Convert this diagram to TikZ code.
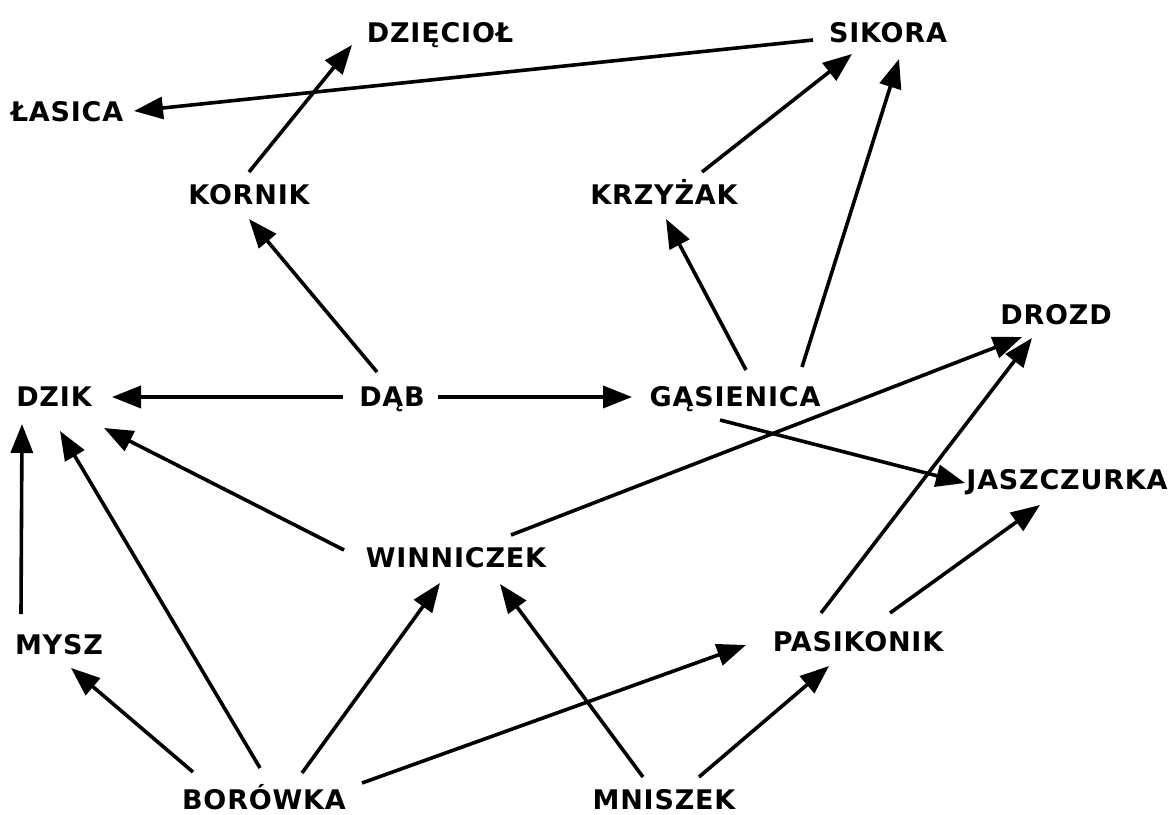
\documentclass[tikz,border=0pt]{standalone}
\usepackage{fontspec}
\setmainfont{DejaVu Sans}[LetterSpace=3]
\usetikzlibrary{arrows.meta}
\tikzset{
  lbl/.style={font=\bfseries\fontsize{27}{31}\selectfont, inner sep=0pt, text height=19.5pt, text depth=0pt, anchor=center},
  arr/.style={line width=3.6pt, -{Triangle[length=29pt,width=22pt]}}
}
\begin{document}
\begin{tikzpicture}[x=1pt,y=-1pt]
\useasboundingbox[fill=white] (0,0) rectangle (1169,814);
\node[lbl] (dzieciol) at (440,33) {DZIĘCIOŁ};
\node[lbl] (sikora) at (888,33) {SIKORA};
\node[lbl] (lasica) at (67,112) {ŁASICA};
\node[lbl] (kornik) at (249,195) {KORNIK};
\node[lbl] (krzyzak) at (664,195) {KRZYŻAK};
\node[lbl] (drozd) at (1056,315) {DROZD};
\node[lbl] (dzik) at (54,397) {DZIK};
\node[lbl] (dab) at (392,397) {DĄB};
\node[lbl] (gasienica) at (735,397) {GĄSIENICA};
\node[lbl] (jaszczurka) at (1067,480) {JASZCZURKA};
\node[lbl] (winniczek) at (456,558) {WINNICZEK};
\node[lbl] (mysz) at (59,645) {MYSZ};
\node[lbl] (pasikonik) at (858,642) {PASIKONIK};
\node[lbl] (borowka) at (264,800) {BORÓWKA};
\node[lbl] (mniszek) at (664,800) {MNISZEK};

\draw[arr] ([shift={(-75,7)}]sikora.center) -- ([shift={(67,-1)}]lasica.center);
\draw[arr] ([shift={(0,-23)}]kornik.center) -- ([shift={(-88,12)}]dzieciol.center);
\draw[arr] ([shift={(-15,-25)}]dab.center) -- ([shift={(0,24)}]kornik.center);
\draw[arr] ([shift={(-49,0)}]dab.center) -- ([shift={(58,0)}]dzik.center);
\draw[arr] ([shift={(46,0)}]dab.center) -- ([shift={(-103,0)}]gasienica.center);
\draw[arr] ([shift={(11,-27)}]gasienica.center) -- ([shift={(2,24)}]krzyzak.center);
\draw[arr] ([shift={(38,-23)}]krzyzak.center) -- ([shift={(-36,21)}]sikora.center);
\draw[arr] ([shift={(67,-30)}]gasienica.center) -- ([shift={(11,26)}]sikora.center);
\draw[arr] ([shift={(-15,23)}]gasienica.center) -- ([shift={(-102,3)}]jaszczurka.center);
\draw[arr] ([shift={(55,-23)}]winniczek.center) -- ([shift={(-34,22)}]drozd.center);
\draw[arr] ([shift={(-112,-8)}]winniczek.center) -- ([shift={(50,31)}]dzik.center);
\draw[arr] ([shift={(-38,-31)}]mysz.center) -- ([shift={(-32,27)}]dzik.center);
\draw[arr] ([shift={(-71,-28)}]borowka.center) -- ([shift={(12,23)}]mysz.center);
\draw[arr] ([shift={(-4,-32)}]borowka.center) -- ([shift={(6,34)}]dzik.center);
\draw[arr] ([shift={(38,-27)}]borowka.center) -- ([shift={(-16,25)}]winniczek.center);
\draw[arr] ([shift={(98,-17)}]borowka.center) -- ([shift={(-112,3)}]pasikonik.center);
\draw[arr] ([shift={(-21,-23)}]mniszek.center) -- ([shift={(44,26)}]winniczek.center);
\draw[arr] ([shift={(35,-23)}]mniszek.center) -- ([shift={(-29,24)}]pasikonik.center);
\draw[arr] ([shift={(-37,-29)}]pasikonik.center) -- ([shift={(-24,23)}]drozd.center);
\draw[arr] ([shift={(32,-29)}]pasikonik.center) -- ([shift={(-27,25)}]jaszczurka.center);
\end{tikzpicture}
\end{document}
